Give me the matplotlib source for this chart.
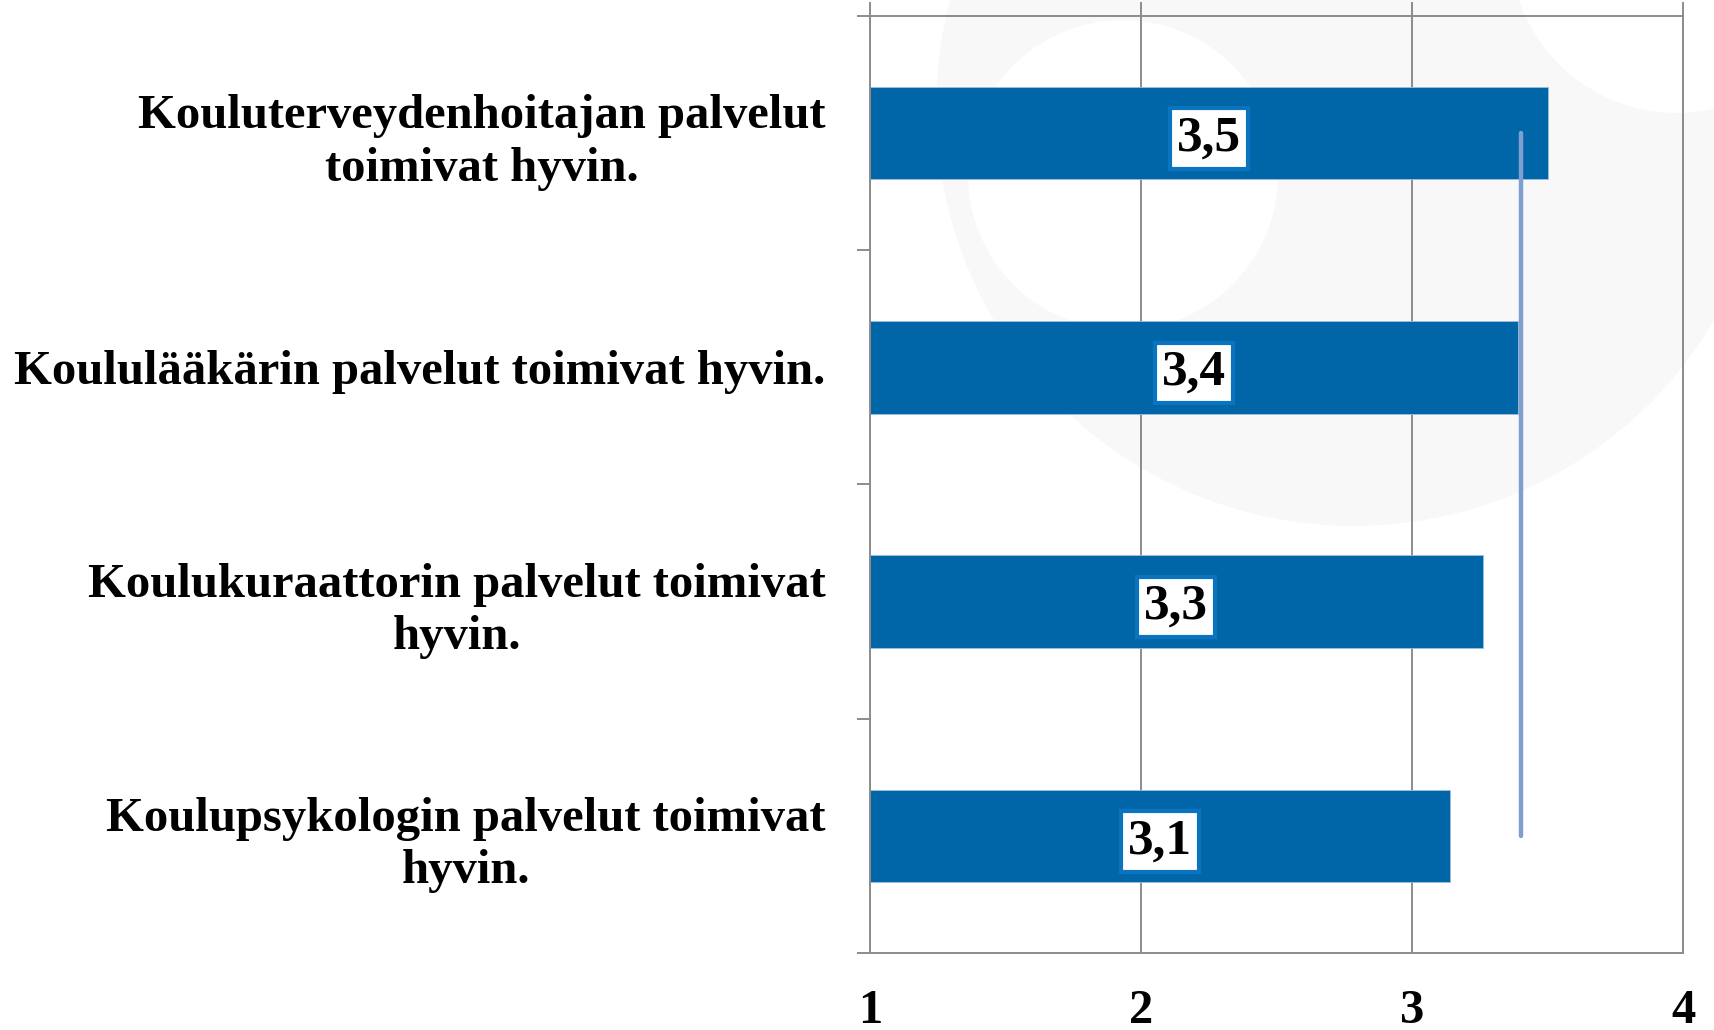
import matplotlib.pyplot as plt
import matplotlib.patches as mpatches
import numpy as np

labels = ["Kouluterveydenhoitajan palvelut\ntoimivat hyvin.",
          "Koululääkärin palvelut toimivat hyvin.",
          "Koulukuraattorin palvelut toimivat\nhyvin.",
          "Koulupsykologin palvelut toimivat\nhyvin."]
values = [3.50, 3.39, 3.26, 3.14]
value_text = ["3,5", "3,4", "3,3", "3,1"]
mean_line = 3.4
xticks = [1, 2, 3, 4]

bar_color = "#0066a8"
grid_color = "#8c8c8c"

plt.rcParams['font.family'] = ['Liberation Serif', 'DejaVu Serif']

fig = plt.figure(figsize=(17.14, 10.30), dpi=100)

# faint watermark logo in the background
wm = fig.dpi_scale_trans
fig.patches.append(mpatches.Circle((13.54, 9.22), 4.18, transform=wm,
                                   facecolor="#f8f8f8", edgecolor="none", zorder=0))
fig.patches.append(mpatches.Circle((11.23, 8.55), 1.55, transform=wm,
                                   facecolor="white", edgecolor="none", zorder=0))
fig.patches.append(mpatches.Circle((16.77, 10.84), 1.67, transform=wm,
                                   facecolor="white", edgecolor="none", zorder=0))

ax = fig.add_axes([0.5076, 0.0748, 0.4744, 0.9097])
ax.set_facecolor("none")
ax.set_zorder(2)

y = np.arange(len(values))
ax.barh(y, np.array(values) - 1, left=1, height=0.395, color=bar_color,
        edgecolor="#9dbfe0", linewidth=0.6, zorder=2)

for yi, v, t in zip(y, values, value_text):
    ax.text((1 + v) / 2, yi, t, ha="center", va="center_baseline", fontsize=37,
            fontweight="bold", zorder=4,
            bbox=dict(boxstyle="square,pad=0.14", facecolor="white",
                      edgecolor="#0a74c0", linewidth=3))

ax.plot([mean_line, mean_line], [0, 3], color="#7f9fcf", lw=3.2,
        solid_capstyle="round", zorder=3)

ax.set_xlim(1, 4)
ax.set_ylim(3.5, -0.5)

ax.set_xticks(xticks)
ax.set_xticklabels([str(x) for x in xticks], fontweight="bold")
ax.xaxis.grid(True, color=grid_color, lw=1.4, zorder=1)
ax.tick_params(axis="x", which="major", bottom=False, top=True, labelbottom=True,
               direction="out", length=10, width=1.4, color=grid_color,
               labelsize=35, pad=16)

ax.set_yticks(np.arange(-0.5, 4, 1))
ax.set_yticklabels([])
ax.tick_params(axis="y", which="major", left=True, direction="out", length=9.5,
               width=1.4, color=grid_color)
ax.set_yticks(y, labels, minor=True)
ax.tick_params(axis="y", which="minor", length=0, labelsize=35, pad=32)
for lab in ax.get_yticklabels(minor=True):
    lab.set_multialignment("center")
    lab.set_linespacing(1.25)
    lab.set_fontweight("bold")

for s in ax.spines.values():
    s.set_color(grid_color)
    s.set_linewidth(1.4)

fig.savefig("out.png", dpi=100)
